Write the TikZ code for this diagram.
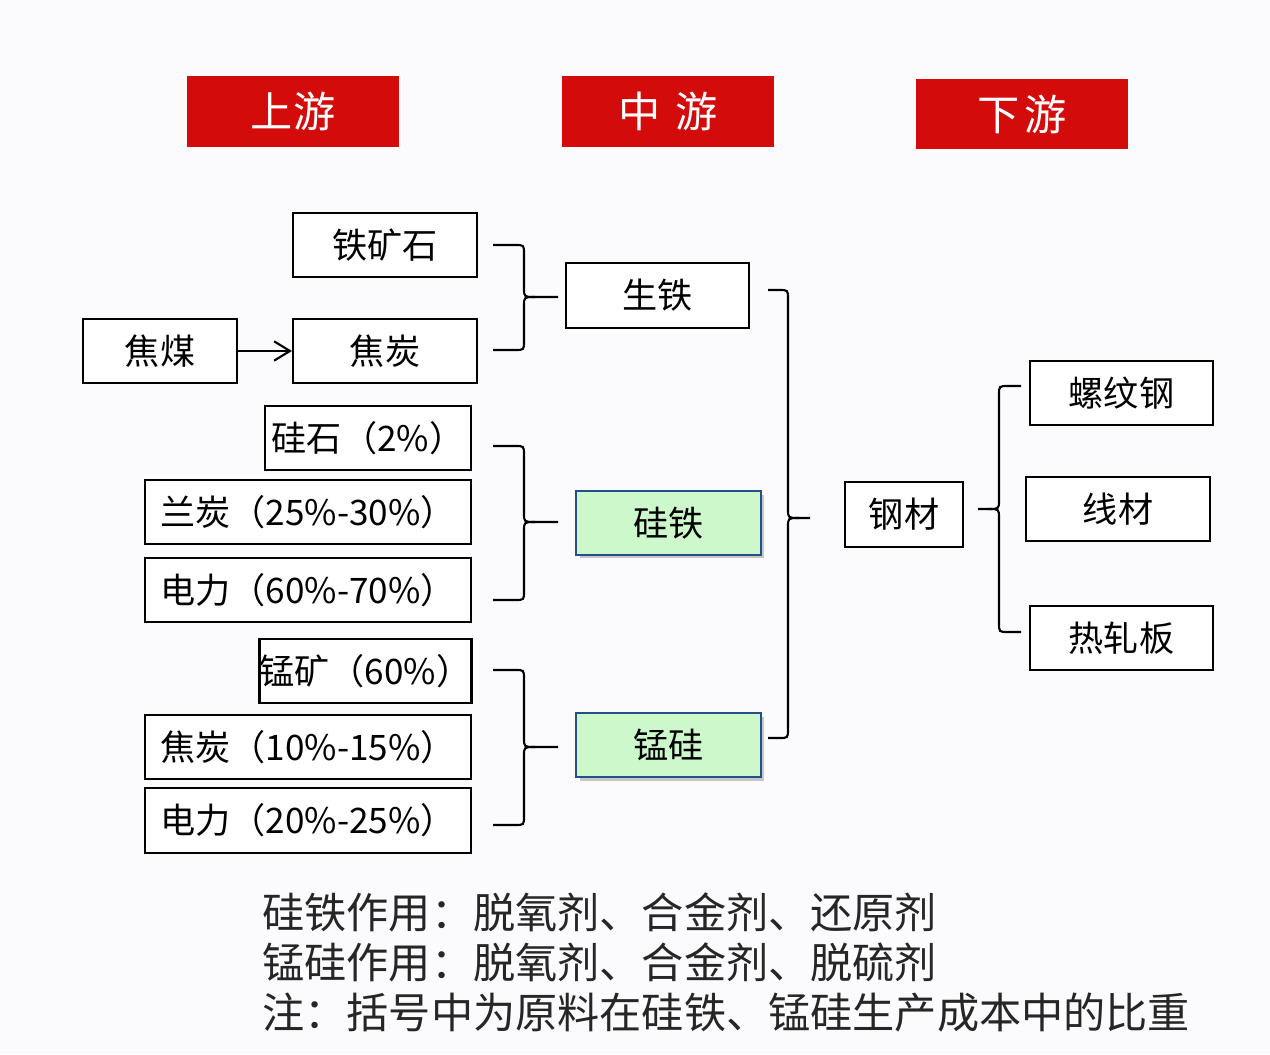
\documentclass[tikz,border=0pt]{standalone}
\usepackage{fontspec}
\setmainfont{Noto Sans CJK SC}
\usetikzlibrary{arrows.meta,shadows}
\definecolor{hdrred}{HTML}{D30B0B}
\definecolor{lgreen}{HTML}{CCF8CC}
\definecolor{navy}{HTML}{24508A}
\definecolor{bgc}{HTML}{FBFBFD}
\newcommand\brR[6]{%
 \draw[conn] (#1,#2) -- ({#4-9},#2) .. controls (#4,#2) .. (#4,{#2+9}) -- (#4,{#5-9}) .. controls (#4,#5) .. ({#4+11},#5) -- (#6,#5);
 \draw[conn] (#1,#3) -- ({#4-9},#3) .. controls (#4,#3) .. (#4,{#3-9}) -- (#4,{#5+9}) .. controls (#4,#5) .. ({#4+11},#5);}
\newcommand\brL[6]{%
 \draw[conn] (#1,#2) -- ({#4+9},#2) .. controls (#4,#2) .. (#4,{#2+9}) -- (#4,{#5-9}) .. controls (#4,#5) .. ({#4-11},#5) -- (#6,#5);
 \draw[conn] (#1,#3) -- ({#4+9},#3) .. controls (#4,#3) .. (#4,{#3-9}) -- (#4,{#5+9}) .. controls (#4,#5) .. ({#4-11},#5);}
\begin{document}
\begin{tikzpicture}[x=0.02cm,y=-0.02cm,
  hdr/.style={fill=hdrred,text=white,inner sep=0pt,minimum width=4.24cm,minimum height=1.42cm,font=\fontsize{24}{28}\selectfont},
  box/.style={draw=black,line width=1.2pt,fill=white,inner sep=0pt,minimum height=1.28cm,font=\fontsize{20}{24}\selectfont},
  gbox/.style={draw=navy,line width=1.3pt,fill=lgreen,inner sep=0pt,minimum width=3.70cm,minimum height=1.28cm,font=\fontsize{20}{24}\selectfont,
    drop shadow={shadow xshift=0.07cm,shadow yshift=-0.07cm,opacity=0.35,fill=black!60}},
  conn/.style={draw=black,line width=1.2pt},
  note/.style={anchor=west,inner sep=0pt,font=\fontsize{24}{28}\selectfont,text=black!85}]
\fill[bgc] (0,0) rectangle (1270,1054);
\useasboundingbox (0,0) rectangle (1270,1054);
% headers
\node[hdr] (sy) at (293,111.5) {上游};
\node[hdr] (zy) at (668,111.5) {中\hspace{0.35em}游};
\node[hdr] (xy) at (1022,114) {下\hspace{0.1em}游};
% upstream
\node[box,minimum width=3.68cm] (tks) at (385,245) {铁矿石};
\node[box,minimum width=3.08cm] (jm) at (160,351) {焦煤};
\node[box,minimum width=3.68cm] (jt) at (385,351) {焦炭};
\node[box,minimum width=4.12cm] (gs) at (368,438) {硅石（2\%）};
\node[box,minimum width=6.52cm] (lt) at (308,512) {兰炭（25\%-30\%）};
\node[box,minimum width=6.52cm] (dl1) at (308,590) {电力（60\%-70\%）};
\node[box,minimum width=4.22cm] (mk) at (365.5,671) {锰矿（60\%）};
\node[box,minimum width=6.52cm] (jt2) at (308,747) {焦炭（10\%-15\%）};
\node[box,minimum width=6.52cm,minimum height=1.30cm] (dl2) at (308,820.5) {电力（20\%-25\%）};
% midstream
\node[box,minimum width=3.66cm,minimum height=1.30cm] (st) at (657.5,295.5) {生铁};
\node[gbox] (gt) at (668.5,523) {硅铁};
\node[gbox] (mg) at (668.5,745) {锰硅};
% downstream
\node[box,minimum width=2.36cm,minimum height=1.30cm] (gc) at (904,514.5) {钢材};
\node[box,minimum width=3.66cm] (lwg) at (1121.5,393) {螺纹钢};
\node[box,minimum width=3.68cm] (xc) at (1118,509) {线材};
\node[box,minimum width=3.66cm] (rzb) at (1121.5,638) {热轧板};
% connectors
\draw[conn,-{Straight Barb[length=9pt,width=11pt,line width=1.2pt]}] (jm) -- (jt);
\brR{493}{245}{350}{524}{297}{558}
\brR{493}{446}{600}{524}{522}{558}
\brR{493}{670}{825}{524}{747}{558}
\brR{768}{290}{738}{788}{518}{810}
\brL{1021}{386}{632}{999}{509}{978}
% notes
\node[note] (n1) at (262,912) {硅铁作用：脱氧剂、合金剂、还原剂};
\node[note] (n2) at (262,962) {锰硅作用：脱氧剂、合金剂、脱硫剂};
\node[note] (n3) at (262,1013) {注：括号中为原料在硅铁、锰硅生产成本中的比重};
\end{tikzpicture}
\end{document}
